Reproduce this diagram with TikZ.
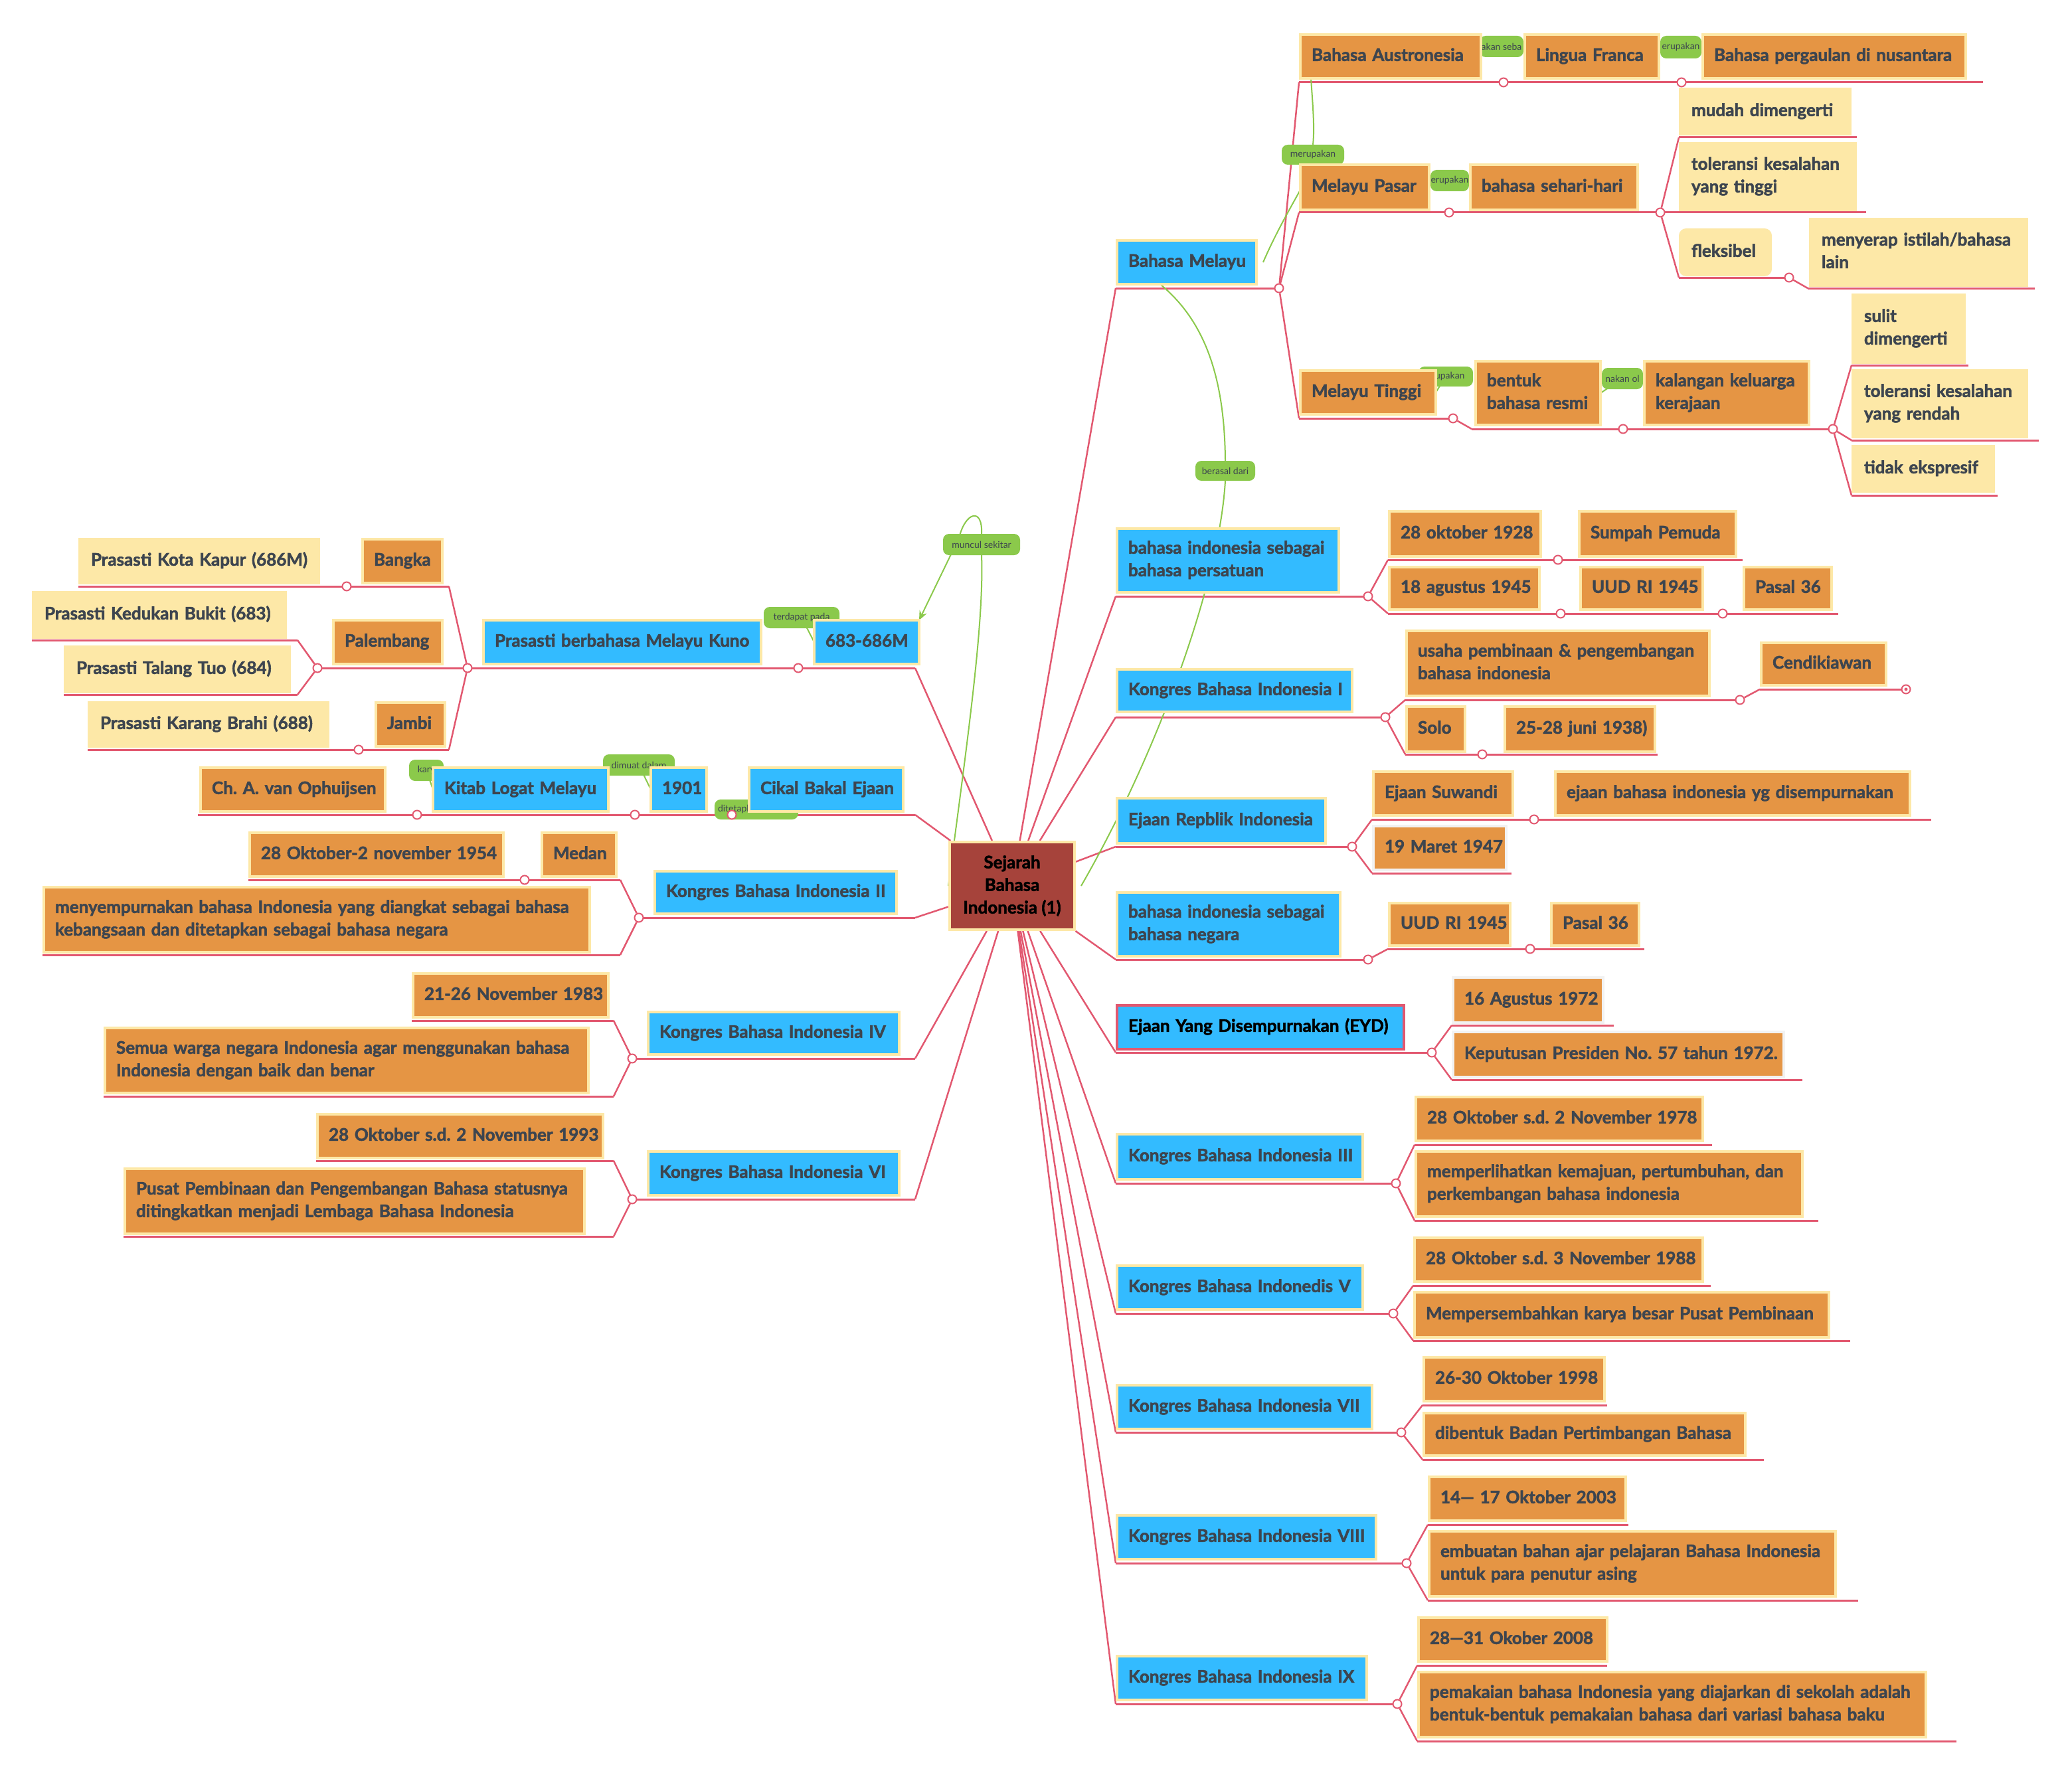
\documentclass[tikz,border=0pt]{standalone}
\usepackage{fontspec}
\setmainfont{Lato}[BoldFeatures={FakeBold=2}]
\usetikzlibrary{arrows.meta,calc}
\pgfdeclarelayer{bg}
\pgfdeclarelayer{lb}
\pgfsetlayers{bg,lb,main}
\definecolor{cblue}{RGB}{51,187,255}
\definecolor{corg}{RGB}{229,149,68}
\definecolor{cylw}{RGB}{253,232,167}
\definecolor{cred}{RGB}{166,67,59}
\definecolor{cpink}{RGB}{226,88,112}
\definecolor{cgreen}{RGB}{139,201,75}
\definecolor{ctext}{RGB}{61,69,79}
\definecolor{cgray}{RGB}{242,242,242}
\frenchspacing
\newcommand\mkbx[7]{%
 \pgfmathsetmacro\bxw{(#4-#2)*2-4}%
 \pgfmathsetmacro\bxh{(#5-#3)*2-4}%
 \pgfmathsetmacro\bxt{(#4-#2)*2-38}%
 \node[#6,anchor=north west,minimum width=\bxw pt,minimum height=\bxh pt,text width=\bxt pt] (#1) at (#2+1,#3+1) {\noindent\begin{tabular}{@{}l@{}}#7\end{tabular}};}
\newcommand\mkul[4]{\coordinate (#1a) at (#2,#4); \coordinate (#1b) at (#3,#4); \draw[ulst] (#1a) -- (#1b);}
\newcommand\mkci[3]{\node[cir] (#1) at (#2,#3) {};}
\newcommand\mklb[7][]{\node[lbl,minimum width={(#5-#3)*2pt},minimum height={(#6-#4)*2pt},#1] (#2) at ({(#3+#5)/2},{(#4+#6)/2}) {#7};}
\begin{document}
\begin{tikzpicture}[x=2pt,y=-2pt,
 bxb/.style={rectangle,fill=cblue,draw=cylw,line width=4pt,inner xsep=17pt,inner ysep=1pt,outer sep=0pt,align=left,text=ctext,font=\bfseries\fontsize{26}{34}\selectfont},
 bxo/.style={bxb,fill=corg},
 bxy/.style={bxb,fill=cylw},
 bxg/.style={bxb,fill=corg,draw=cgray},
 bxe/.style={bxb,draw=cpink,text=black},
 ulst/.style={draw=cpink,line width=3pt},
 cn/.style={draw=cpink,line width=2.5pt},
 cir/.style={circle,draw=cpink,fill=white,line width=2pt,minimum size=13pt,inner sep=0pt},
 rel/.style={draw=cgreen,line width=2pt},
 lbl/.style={fill=cgreen,rounded corners=9pt,inner sep=0pt,text=ctext,font=\fontsize{14}{16}\selectfont},
 cenbox/.style={rectangle,fill=cred,draw=cylw,line width=4pt,align=center,text=black,font=\bfseries\fontsize{26}{34}\selectfont}]
\begin{pgfonlayer}{bg}
\useasboundingbox (0,0) rectangle (1560,1335);
\fill[white] (0,0) rectangle (1560,1335);
\end{pgfonlayer}

% ---------- central node ----------
\node[cenbox,minimum width=188pt,minimum height=132pt] (cen) at (762,667) {Sejarah\\Bahasa\\Indonesia (1)};

% ---------- right side, level 1 ----------
\mkbx{mel}{840}{180}{947}{215}{bxb}{Bahasa Melayu}
\mkbx{per}{840}{397}{1009}{447}{bxb}{bahasa indonesia sebagai\\bahasa persatuan}
\mkbx{kb1}{840}{503}{1019}{537}{bxb}{Kongres Bahasa Indonesia I}
\mkbx{erp}{840}{600}{999}{636}{bxb}{Ejaan Repblik Indonesia}
\mkbx{neg}{840}{671}{1010}{721}{bxb}{bahasa indonesia sebagai\\bahasa negara}
\mkbx{eyd}{840}{756}{1058}{791}{bxe}{Ejaan Yang Disempurnakan (EYD)}
\mkbx{kb3}{840}{853}{1027}{889}{bxb}{Kongres Bahasa Indonesia III}
\mkbx{kb5}{840}{952}{1027}{987}{bxb}{Kongres Bahasa Indonedis V}
\mkbx{kb7}{840}{1042}{1034}{1077}{bxb}{Kongres Bahasa Indonesia VII}
\mkbx{kb8}{840}{1140}{1037}{1175}{bxb}{Kongres Bahasa Indonesia VIII}
\mkbx{kb9}{840}{1246}{1030}{1281}{bxb}{Kongres Bahasa Indonesia IX}

% ---------- Bahasa Melayu subtree ----------
\mkbx{aus}{978}{25}{1116}{60}{bxo}{Bahasa Austronesia}
\mkbx{lf}{1147}{25}{1250}{60}{bxo}{Lingua Franca}
\mkbx{bpn}{1281}{25}{1481}{60}{bxo}{Bahasa pergaulan di nusantara}
\mkbx{mp}{978}{123}{1077}{159}{bxo}{Melayu Pasar}
\mkbx{shr}{1106}{123}{1234}{159}{bxo}{bahasa sehari-hari}
\mkbx{mud}{1264}{66}{1394}{102}{bxy}{mudah dimengerti}
\mkbx{tol}{1264}{107}{1398}{159}{bxy}{toleransi kesalahan\\yang tinggi}
\mkbx{flk}{1264}{172}{1334}{208}{bxy,rounded corners=9pt}{fleksibel}
\mkbx{mny}{1362}{164}{1527}{216}{bxy}{menyerap istilah/bahasa\\lain}
\mkbx{mt}{978}{278}{1082}{313}{bxo}{Melayu Tinggi}
\mkbx{bnt}{1110}{271}{1206}{321}{bxo}{bentuk\\bahasa resmi}
\mkbx{klg}{1237}{271}{1363}{321}{bxo}{kalangan keluarga\\kerajaan}
\mkbx{sul}{1394}{221}{1480}{274}{bxy}{sulit\\dimengerti}
\mkbx{tlr}{1394}{278}{1527}{330}{bxy}{toleransi kesalahan\\yang rendah}
\mkbx{tdk}{1394}{335}{1502}{371}{bxy}{tidak ekspresif}

% ---------- other right subtrees ----------
\mkbx{o28}{1045}{384}{1161}{420}{bxo}{28 oktober 1928}
\mkbx{smp}{1188}{384}{1308}{420}{bxo}{Sumpah Pemuda}
\mkbx{a18}{1045}{426}{1160}{460}{bxo}{18 agustus 1945}
\mkbx{uud1}{1189}{426}{1283}{460}{bxo}{UUD RI 1945}
\mkbx{p36a}{1312}{426}{1380}{460}{bxo}{Pasal 36}
\mkbx{usa}{1058}{474}{1288}{525}{bxo}{usaha pembinaan \& pengembangan\\bahasa indonesia}
\mkbx{cdk}{1325}{483}{1421}{517}{bxo}{Cendikiawan}
\mkbx{solo}{1058}{531}{1104}{567}{bxo}{Solo}
\mkbx{jun}{1132}{531}{1247}{567}{bxo}{25-28 juni 1938)}
\mkbx{suw}{1033}{580}{1140}{615}{bxo}{Ejaan Suwandi}
\mkbx{ejd}{1170}{580}{1439}{615}{bxo}{ejaan bahasa indonesia yg disempurnakan}
\mkbx{m47}{1033}{621}{1135}{656}{bxg}{19 Maret 1947}
\mkbx{uud2}{1045}{679}{1138}{713}{bxo}{UUD RI 1945}
\mkbx{p36b}{1167}{679}{1235}{713}{bxo}{Pasal 36}
\mkbx{a72}{1093}{735}{1208}{771}{bxg}{16 Agustus 1972}
\mkbx{kep}{1093}{776}{1344}{812}{bxg}{Keputusan Presiden No. 57 tahun 1972.}
\mkbx{o78}{1065}{825}{1283}{860}{bxo}{28 Oktober s.d. 2 November 1978}
\mkbx{mpr}{1065}{866}{1358}{917}{bxo}{memperlihatkan kemajuan, pertumbuhan, dan\\perkembangan bahasa indonesia}
\mkbx{o88}{1064}{931}{1283}{966}{bxo}{28 Oktober s.d. 3 November 1988}
\mkbx{mps}{1064}{972}{1378}{1008}{bxo}{Mempersembahkan karya besar Pusat Pembinaan}
\mkbx{o98}{1071}{1021}{1209}{1056}{bxo}{26-30 Oktober 1998}
\mkbx{dib}{1071}{1063}{1315}{1097}{bxo}{dibentuk Badan Pertimbangan Bahasa}
\mkbx{o03}{1075}{1111}{1225}{1146}{bxo}{14— 17 Oktober 2003}
\mkbx{emb}{1075}{1152}{1383}{1203}{bxo}{embuatan bahan ajar pelajaran Bahasa Indonesia\\untuk para penutur asing}
\mkbx{o08}{1067}{1217}{1211}{1252}{bxo}{28—31 Okober 2008}
\mkbx{pem}{1067}{1258}{1451}{1309}{bxo}{pemakaian bahasa Indonesia yang diajarkan di sekolah adalah\\bentuk-bentuk pemakaian bahasa dari variasi bahasa baku}

% ---------- left side ----------
\mkbx{t683}{612}{466}{693}{501}{bxb}{683-686M}
\mkbx{pbmk}{363}{466}{574}{501}{bxb}{Prasasti berbahasa Melayu Kuno}
\mkbx{bgk}{272}{405}{334}{440}{bxo}{Bangka}
\mkbx{pkk}{59}{405}{241}{440}{bxy}{Prasasti Kota Kapur (686M)}
\mkbx{plb}{250}{466}{334}{501}{bxo}{Palembang}
\mkbx{pkb}{24}{445}{216}{481}{bxy}{Prasasti Kedukan Bukit (683)}
\mkbx{ptt}{48}{486}{219}{522}{bxy}{Prasasti Talang Tuo (684)}
\mkbx{jmb}{282}{528}{336}{563}{bxo}{Jambi}
\mkbx{pkr}{66}{528}{248}{563}{bxy}{Prasasti Karang Brahi (688)}
\mkbx{cbe}{563}{577}{681}{612}{bxb}{Cikal Bakal Ejaan}
\mkbx{y01}{489}{577}{533}{612}{bxb}{1901}
\mkbx{klm}{325}{577}{459}{612}{bxb}{Kitab Logat Melayu}
\mkbx{cho}{150}{577}{291}{612}{bxo}{Ch. A. van Ophuijsen}
\mkbx{k2}{492}{655}{676}{689}{bxb}{Kongres Bahasa Indonesia II}
\mkbx{o54}{187}{626}{380}{661}{bxo}{28 Oktober-2 november 1954}
\mkbx{mdn}{407}{626}{465}{661}{bxo}{Medan}
\mkbx{mny2}{32}{667}{445}{718}{bxo}{menyempurnakan bahasa Indonesia yang diangkat sebagai bahasa\\kebangsaan dan ditetapkan sebagai bahasa negara}
\mkbx{k4}{487}{761}{678}{795}{bxb}{Kongres Bahasa Indonesia IV}
\mkbx{o83}{310}{732}{459}{767}{bxo}{21-26 November 1983}
\mkbx{smw}{78}{773}{444}{824}{bxo}{Semua warga negara Indonesia agar menggunakan bahasa\\Indonesia dengan baik dan benar}
\mkbx{k6}{487}{866}{678}{901}{bxb}{Kongres Bahasa Indonesia VI}
\mkbx{o93}{238}{838}{455}{873}{bxo}{28 Oktober s.d. 2 November 1993}
\mkbx{psp}{93}{879}{441}{930}{bxo}{Pusat Pembinaan dan Pengembangan Bahasa statusnya\\ditingkatkan menjadi Lembaga Bahasa Indonesia}

% ---------- relation labels ----------
\begin{pgfonlayer}{lb}
\mklb{lmer}{965}{109}{1012}{124}{merupakan}
\mklb{lber}{900}{347}{945}{362}{berasal dari}
\mklb{lmun}{710}{402}{768}{418}{muncul sekitar}
\mklb{lter}{575}{457}{632}{473}{terdapat pada}
\mklb{lsb}{1114}{27}{1147}{43}{akan seba}
\mklb{lm2}{1250}{27}{1281}{44}{erupakan}
\mklb{lm3}{1077}{128}{1106}{144}{erupakan}
\mklb{lm4}{1068}{276}{1109}{291}{erupakan}
\mklb{ldo}{1206}{277}{1237}{293}{nakan ol}
\mklb{lka}{308}{572}{334}{588}{kary}
\mklb{ldm}{454}{568}{508}{584}{dimuat dalam}
\mklb[text width=116pt,align=left]{ldt}{538}{602}{601}{617}{ditetapkan}
\end{pgfonlayer}

% ---------- underlines ----------
\begin{pgfonlayer}{bg}
\mkul{umel}{840}{963}{217}
\mkul{uper}{840}{1030}{449}
\mkul{ukbi}{840}{1043}{540}
\mkul{uerp}{840}{1018}{637.5}
\mkul{uneg}{840}{1030}{722.5}
\mkul{ueyd}{840}{1078}{792.5}
\mkul{ukbiii}{840}{1051}{891}
\mkul{ukbv}{840}{1049}{989}
\mkul{ukbvii}{840}{1055}{1078.5}
\mkul{ukbviii}{840}{1059}{1177}
\mkul{ukbix}{840}{1052}{1283}
\mkul{uaus}{978}{1493}{62}
\mkul{ump}{978}{1405}{160}
\mkul{umud}{1264}{1398}{103.5}
\mkul{uflk}{1264}{1347}{209}
\mkul{umny}{1361}{1532}{217}
\mkul{umt}{978}{1094}{315}
\mkul{ubnt}{1108}{1380}{323}
\mkul{usul}{1394}{1482}{275}
\mkul{utlr}{1394}{1535}{331.5}
\mkul{utdk}{1394}{1504}{373}
\mkul{uotw}{1045}{1312}{421.5}
\mkul{uaeg}{1045}{1384}{462}
\mkul{uusa}{1058}{1310}{527}
\mkul{ucdk}{1325}{1435}{519}
\mkul{usolo}{1058}{1248}{568}
\mkul{usuw}{1033}{1454}{617}
\mkul{umfs}{1033}{1138}{657.5}
\mkul{uuudb}{1045}{1238}{714.5}
\mkul{uaag}{1093}{1215}{772}
\mkul{ukep}{1093}{1357}{813}
\mkul{uose}{1065}{1289}{862}
\mkul{umpr}{1065}{1369}{919}
\mkul{uoei}{1064}{1288}{968}
\mkul{umps}{1064}{1393}{1009.5}
\mkul{uonn}{1071}{1210}{1058}
\mkul{udib}{1071}{1328}{1099}
\mkul{uoth}{1075}{1226}{1148}
\mkul{uemb}{1075}{1399}{1205}
\mkul{uoeg}{1067}{1210}{1254}
\mkul{upem}{1067}{1473}{1311}
\mkul{upr}{239}{689}{503}
\mkul{ubgk}{59}{338}{441.5}
\mkul{upkb}{24}{224}{482}
\mkul{uptt}{48}{224}{523}
\mkul{ujmb}{66}{338}{564.5}
\mkul{ucbe}{149}{689}{613.5}
\mkul{uofi}{187}{467}{662.5}
\mkul{umnyb}{32}{467}{719}
\mkul{ukii}{481}{689}{691}
\mkul{uoet}{310}{462}{768.5}
\mkul{usmw}{78}{462}{825.5}
\mkul{ukiv}{476}{689}{797}
\mkul{uont}{238}{462}{874}
\mkul{upsp}{93}{462}{931}
\mkul{ukvi}{476}{689}{903}
\end{pgfonlayer}

% ---------- branch circles ----------
\mkci{cmel}{963}{217}
\mkci{caus}{1132}{62}
\mkci{clf}{1266}{62}
\mkci{cmp}{1091}{160}
\mkci{cshr}{1250}{160}
\mkci{cflk}{1347}{209}
\mkci{cmt}{1094}{315}
\mkci{cbnt}{1222}{323}
\mkci{cklg}{1380}{323}
\mkci{cper}{1030}{449}
\mkci{cotw}{1173}{421.5}
\mkci{caeg}{1175}{462}
\mkci{cuuda}{1297}{462}
\mkci{ckbi}{1043}{540}
\mkci{cusa}{1310}{527}
\mkci{ccdk}{1435}{519}
\mkci{csolo}{1116}{568}
\mkci{cerp}{1018}{637.5}
\mkci{csuw}{1155}{617}
\mkci{cneg}{1030}{722.5}
\mkci{cuudb}{1152}{714.5}
\mkci{ceyd}{1078}{792.5}
\mkci{ckbiii}{1051}{891}
\mkci{ckbv}{1049}{989}
\mkci{ckbvii}{1055}{1078.5}
\mkci{ckbviii}{1059}{1177}
\mkci{ckbix}{1052}{1283}
\mkci{cpbmk}{601}{503}
\mkci{cpr}{352}{503}
\mkci{cpal}{239}{503}
\mkci{ckk}{261}{441.5}
\mkci{ckr}{270}{564.5}
\mkci{ccbe}{551}{613.5}
\mkci{cyo}{478}{613.5}
\mkci{cklm}{314}{613.5}
\mkci{ckii}{481}{691}
\mkci{cmed}{395}{662.5}
\mkci{ckiv}{476}{797}
\mkci{ckvi}{476}{903}
\fill[cpink] (ccdk) circle (2.5pt);

% ---------- connectors ----------
\begin{pgfonlayer}{bg}
\foreach \t in {umela,upera,ukbia,uerpa,unega,ueyda,ukbiiia,ukbva,ukbviia,ukbviiia,ukbixa,uprb,ucbeb,ukiib,ukivb,ukvib}
  \draw[cn] (cen) -- (\t);
\draw[cn] (cmel) -- (uausa);
\draw[cn] (cmel) -- (umpa);
\draw[cn] (cmel) -- (umta);
\draw[cn] (cshr) -- (umuda);
\draw[cn] (cshr) -- (uflka);
\draw[cn] (cflk) -- (umnya);
\draw[cn] (cmt) -- (ubnta);
\draw[cn] (cklg) -- (usula);
\draw[cn] (cklg) -- (utlra);
\draw[cn] (cklg) -- (utdka);
\draw[cn] (cper) -- (uotwa);
\draw[cn] (cper) -- (uaega);
\draw[cn] (ckbi) -- (uusaa);
\draw[cn] (ckbi) -- (usoloa);
\draw[cn] (cusa) -- (ucdka);
\draw[cn] (cerp) -- (usuwa);
\draw[cn] (cerp) -- (umfsa);
\draw[cn] (cneg) -- (uuudba);
\draw[cn] (ceyd) -- (uaaga);
\draw[cn] (ceyd) -- (ukepa);
\draw[cn] (ckbiii) -- (uosea);
\draw[cn] (ckbiii) -- (umpra);
\draw[cn] (ckbv) -- (uoeia);
\draw[cn] (ckbv) -- (umpsa);
\draw[cn] (ckbvii) -- (uonna);
\draw[cn] (ckbvii) -- (udiba);
\draw[cn] (ckbviii) -- (uotha);
\draw[cn] (ckbviii) -- (uemba);
\draw[cn] (ckbix) -- (uoega);
\draw[cn] (ckbix) -- (upema);
\draw[cn] (cpr) -- (ubgkb);
\draw[cn] (cpr) -- (ujmbb);
\draw[cn] (cpal) -- (upkbb);
\draw[cn] (cpal) -- (upttb);
\draw[cn] (ckii) -- (uofib);
\draw[cn] (ckii) -- (umnybb);
\draw[cn] (ckiv) -- (uoetb);
\draw[cn] (ckiv) -- (usmwb);
\draw[cn] (ckvi) -- (uontb);
\draw[cn] (ckvi) -- (upspb);

% ---------- relation curves ----------
\draw[rel] ($(mel.east)+(5,0)$) .. controls (965,165) and (982,140) .. (lmer.south);
\draw[rel] (lmer.north) .. controls (990,95) and (988,75) .. ($(aus.south west)+(8,0)$);
\draw[rel] ($(cen.east)+(4,0)$) .. controls (870,570) and (918,440) .. (lber.south);
\draw[rel] (lber.north) .. controls (922,280) and (905,240) .. ($(mel.south)+(-20,0)$);
\draw[rel] (cen.west) .. controls (728,560) and (741,470) .. (lmun.south);
\draw[rel,-{Stealth[length=14pt,width=12pt]}] (lmun.north) .. controls (740,382) and (727,385) .. (722,405) -- (t683.north east);
\draw[rel] (lter.center) -- (t683.west);
\draw[rel] (lm4.center) -- (mt.east);
\draw[rel] (ldo.center) -- (bnt.east);
\draw[rel] (lka.center) -- (klm.west);
\draw[rel] (ldm.center) -- (y01.west);
\draw[rel] (ldt.center) -- (cbe.west);
\end{pgfonlayer}
\end{tikzpicture}
\end{document}
